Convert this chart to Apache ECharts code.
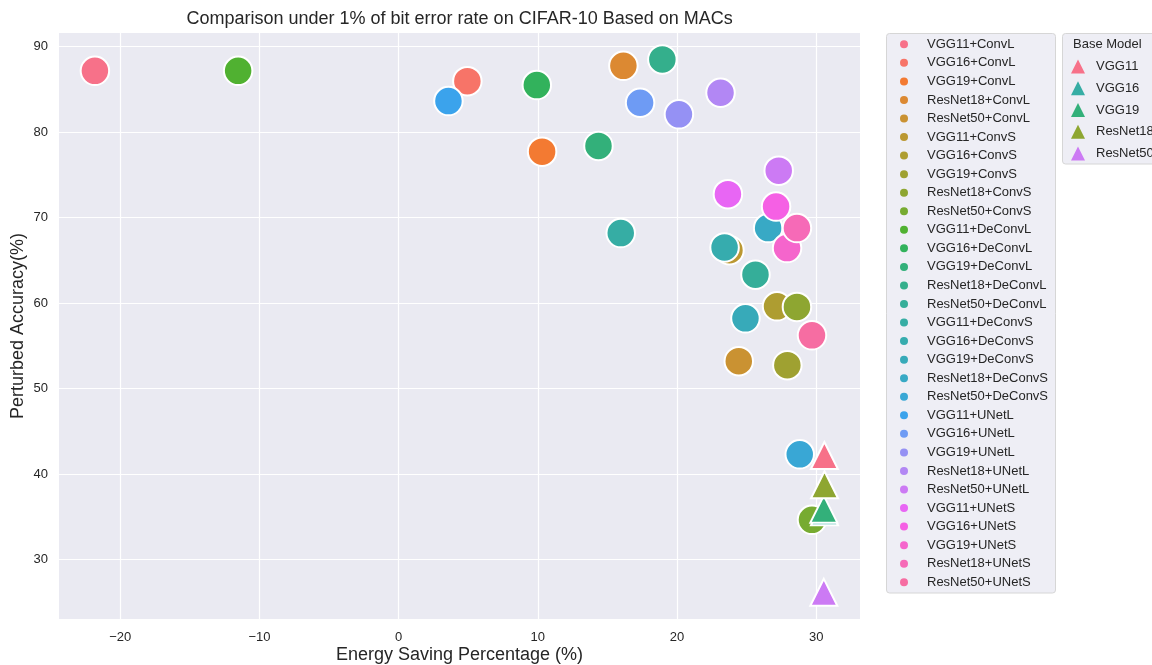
<!DOCTYPE html>
<html>
<head>
<meta charset="utf-8">
<script src="https://cdn.jsdelivr.net/npm/echarts@6.0.0/dist/echarts.min.js"></script>
<style>
  html, body { margin: 0; padding: 0; background: #ffffff; }
  #chart { width: 1152px; height: 665px; }
</style>
</head>
<body>
<div id="chart"></div>
<script>
// ---------------- DATA ----------------
const methodNames = [
  'VGG11+ConvL','VGG16+ConvL','VGG19+ConvL','ResNet18+ConvL','ResNet50+ConvL',
  'VGG11+ConvS','VGG16+ConvS','VGG19+ConvS','ResNet18+ConvS','ResNet50+ConvS',
  'VGG11+DeConvL','VGG16+DeConvL','VGG19+DeConvL','ResNet18+DeConvL','ResNet50+DeConvL',
  'VGG11+DeConvS','VGG16+DeConvS','VGG19+DeConvS','ResNet18+DeConvS','ResNet50+DeConvS',
  'VGG11+UNetL','VGG16+UNetL','VGG19+UNetL','ResNet18+UNetL','ResNet50+UNetL',
  'VGG11+UNetS','VGG16+UNetS','VGG19+UNetS','ResNet18+UNetS','ResNet50+UNetS'
];
const methodEnergy = [
  -21.82, 4.94, 10.31, 16.15, 24.44,
  23.77, 27.19, 27.93, 28.62, 29.70,
  -11.53, 9.93, 14.36, 18.95, 25.64,
  15.96, 23.42, 24.92, 26.55, 28.82,
  3.58, 17.35, 20.14, 23.13, 27.31,
  23.66, 27.12, 27.91, 28.62, 29.70
];
const methodAccuracy = [
  87.18, 85.97, 77.72, 87.76, 53.21,
  66.20, 59.63, 52.74, 59.56, 34.65,
  87.18, 85.51, 78.39, 88.51, 63.33,
  68.20, 66.51, 58.23, 68.78, 42.32,
  83.64, 83.44, 82.09, 84.61, 75.50,
  72.75, 71.30, 66.44, 68.78, 56.24
];
const baseNames = ['VGG11', 'VGG16', 'VGG19', 'ResNet18', 'ResNet50'];
const baseEnergy = [30.59, 30.60, 30.55, 30.60, 30.55];
const baseAccuracy = [42.17, 35.60, 35.90, 38.76, 26.17];
const baseColorIdx = [0, 15, 12, 8, 24];   // which palette entry each base model uses
const xTicks = [-20, -10, 0, 10, 20, 30];
const yTicks = [30, 40, 50, 60, 70, 80, 90];
const titleText = 'Comparison under 1% of bit error rate on CIFAR-10 Based on MACs';
const xTitle = 'Energy Saving Percentage (%)';
const yTitle = 'Perturbed Accuracy(%)';
const legendTitle = 'Base Model';

// ---------------- HUSL palette (seaborn husl_palette) ----------------
function huslToHex(H, S, L) {
  const m = [[3.2406, -1.5372, -0.4986], [-0.9689, 1.8758, 0.0415], [0.0557, -0.2040, 1.0570]];
  const refU = 0.19784, refV = 0.46834, labE = 0.008856, labK = 903.3;
  function maxChroma(L, H) {
    const hrad = H / 180 * Math.PI;
    const sinH = Math.sin(hrad), cosH = Math.cos(hrad);
    const sub1 = Math.pow(L + 16, 3) / 1560896;
    const sub2 = sub1 > 0.008856 ? sub1 : L / 903.3;
    let result = Infinity;
    for (const row of m) {
      const [m1, m2, m3] = row;
      const top = (0.99915 * m1 + 1.05122 * m2 + 1.14460 * m3) * sub2;
      const rbottom = 0.86330 * m3 - 0.17266 * m2;
      const lbottom = 0.12949 * m3 - 0.38848 * m1;
      const bottom = (rbottom * sinH + lbottom * cosH) * sub2;
      for (const t of [0, 1]) {
        const C = L * (top - 1.05122 * t) / (bottom + 0.17266 * sinH * t);
        if (C > 0 && C < result) result = C;
      }
    }
    return result;
  }
  const C = maxChroma(L, H) / 100 * S;
  const hrad = H / 180 * Math.PI;
  const U = Math.cos(hrad) * C, V = Math.sin(hrad) * C;
  const t = (L + 16) / 116;
  const varY = Math.pow(t, 3) > labE ? Math.pow(t, 3) : (116 * t - 16) / labK;
  const varU = U / (13 * L) + refU;
  const varV = V / (13 * L) + refV;
  const Y = varY;
  const X = 0 - (9 * Y * varU) / ((varU - 4) * varV - varU * varV);
  const Z = (9 * Y - 15 * varV * Y - varV * X) / (3 * varV);
  const rgb = m.map(r => {
    let c = r[0] * X + r[1] * Y + r[2] * Z;
    c = c <= 0.0031308 ? 12.92 * c : 1.055 * Math.pow(c, 1 / 2.4) - 0.055;
    c = Math.min(1, Math.max(0, c));
    return Math.round(c * 255);
  });
  return '#' + rgb.map(v => v.toString(16).padStart(2, '0')).join('');
}
function huslPalette(n) {
  const out = [];
  for (let i = 0; i < n; i++) {
    let h = (i / n + 0.01) % 1;
    out.push(huslToHex(h * 359, 0.9 * 99, 0.65 * 99));
  }
  return out;
}
const palette = huslPalette(methodNames.length);

// ---------------- CHART ----------------
const FONT = '"Liberation Sans", Arial, sans-serif';
const TXT = '#262626';
const CIRCLE_ICON = 'path://M0,5A5,5 0 1,0 10,5A5,5 0 1,0 0,5Z';
const TRI_ICON = 'path://M5,0L10,10L0,10Z';
const chart = echarts.init(document.getElementById('chart'), null, { renderer: 'canvas' });

const series = [];
methodNames.forEach((name, i) => {
  series.push({
    type: 'scatter', name: name,
    data: [[methodEnergy[i], methodAccuracy[i]]],
    symbol: 'circle', symbolSize: 28.5,
    itemStyle: { color: palette[i], borderColor: '#ffffff', borderWidth: 2, opacity: 1 },
    emphasis: { disabled: true }, z: 2
  });
});
baseNames.forEach((name, i) => {
  series.push({
    type: 'scatter', name: name,
    data: [[baseEnergy[i], baseAccuracy[i]]],
    symbol: 'triangle', symbolSize: 27,
    itemStyle: { color: palette[baseColorIdx[i]], borderColor: '#ffffff', borderWidth: 2, opacity: 1 },
    emphasis: { disabled: true }, z: 3
  });
});

const fmt = v => String(v).replace('-', '\u2212');

chart.setOption({
  animation: false,
  backgroundColor: '#ffffff',
  textStyle: { fontFamily: FONT },
  title: {
    text: titleText, left: 459.6, top: 10, textAlign: 'center', padding: 0,
    textStyle: { fontFamily: FONT, fontSize: 18, fontWeight: 'normal', color: TXT }
  },
  grid: {
    left: 59, right: 292, top: 33, bottom: 46,
    show: true, backgroundColor: '#eaeaf2', borderWidth: 0,
    containLabel: false, outerBoundsMode: 'none'
  },
  xAxis: {
    type: 'value', min: -24.4, max: 33.15,
    name: xTitle, nameLocation: 'middle', nameGap: 27, nameMoveOverlap: false,
    nameTextStyle: { fontFamily: FONT, fontSize: 18, color: TXT },
    axisLine: { show: false },
    axisTick: { show: false, customValues: xTicks },
    axisLabel: { customValues: xTicks, formatter: fmt, fontFamily: FONT, fontSize: 13, color: TXT, margin: 12 },
    splitLine: { show: true, lineStyle: { color: '#ffffff', width: 1.2 } }
  },
  yAxis: {
    type: 'value', min: 23.05, max: 91.6,
    name: yTitle, nameLocation: 'middle', nameGap: 32, nameMoveOverlap: false,
    nameTextStyle: { fontFamily: FONT, fontSize: 18, color: TXT },
    axisLine: { show: false },
    axisTick: { show: false, customValues: yTicks },
    axisLabel: { customValues: yTicks, formatter: fmt, fontFamily: FONT, fontSize: 13, color: TXT, margin: 11 },
    splitLine: { show: true, lineStyle: { color: '#ffffff', width: 1.2 } }
  },
  legend: [
    {
      data: methodNames, orient: 'vertical', left: 886, top: 33,
      icon: CIRCLE_ICON, symbolKeepAspect: true, itemWidth: 36, itemHeight: 8, itemGap: 0,
      padding: [2, 6, 3, 14],
      backgroundColor: 'transparent', borderWidth: 0,
      itemStyle: { borderWidth: 0 },
      textStyle: { fontFamily: FONT, fontSize: 13, color: TXT, lineHeight: 18.55 },
      selectedMode: false
    },
    {
      data: baseNames, orient: 'vertical', left: 1062, top: 33,
      icon: TRI_ICON, symbolKeepAspect: true, itemWidth: 26, itemHeight: 14, itemGap: 0,
      padding: [22.5, 10, 0, 9],
      backgroundColor: 'transparent', borderWidth: 0,
      itemStyle: { borderWidth: 0 },
      textStyle: { fontFamily: FONT, fontSize: 13, color: TXT, lineHeight: 21.8 },
      selectedMode: false
    }
  ],
  graphic: [
    {
      type: 'rect', z: 0, silent: true,
      shape: { x: 886.5, y: 33.5, width: 169, height: 559.5, r: 3 },
      style: { fill: '#eeeef5', stroke: '#d6d6d6', lineWidth: 1 }
    },
    {
      type: 'rect', z: 0, silent: true,
      shape: { x: 1062.5, y: 33.5, width: 130, height: 130.5, r: 3 },
      style: { fill: '#eeeef5', stroke: '#d6d6d6', lineWidth: 1 }
    },
    {
      type: 'text', x: 1073, y: 44, z: 100,
      style: { text: legendTitle, font: '13px ' + FONT, fill: TXT, textAlign: 'left', textVerticalAlign: 'middle' }
    }
  ],
  series: series
});
</script>
</body>
</html>
